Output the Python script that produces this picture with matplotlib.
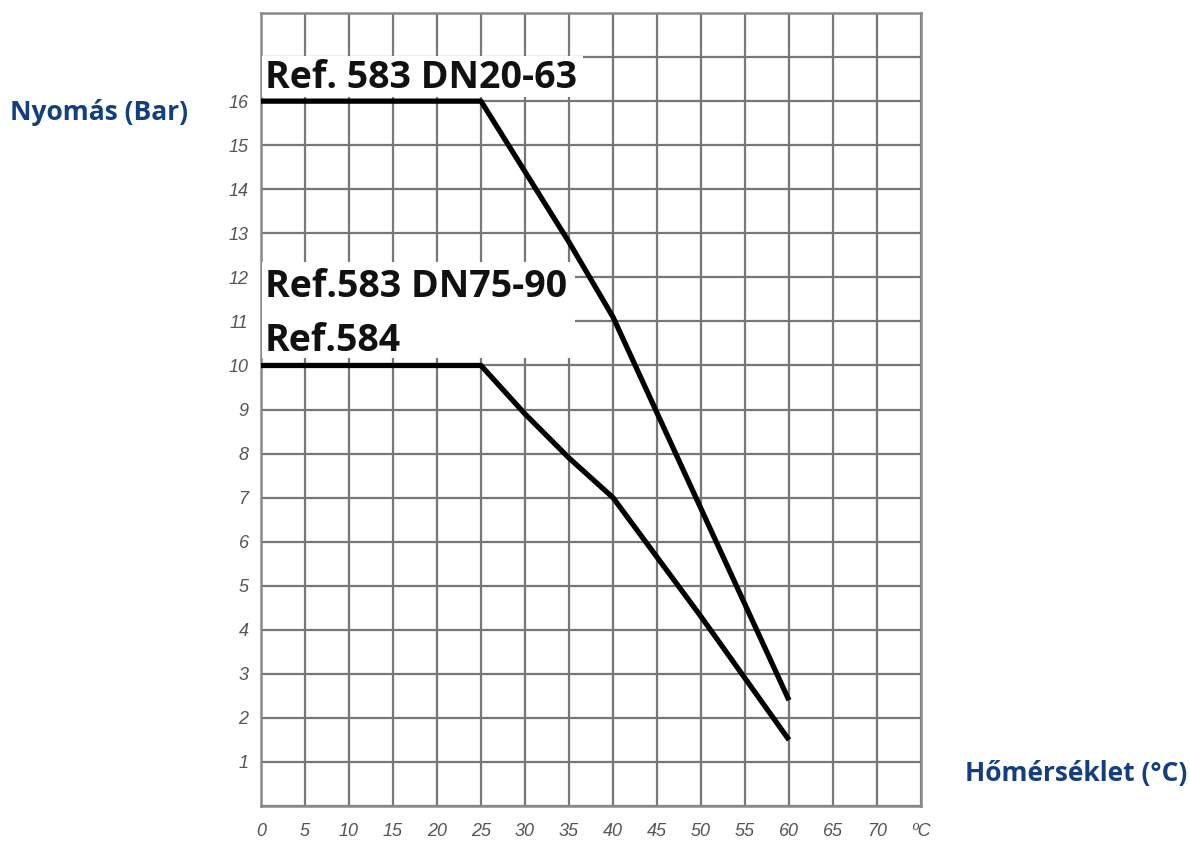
import numpy as np
import matplotlib.pyplot as plt
from matplotlib.patches import Rectangle

# ----- adatok -----
x_hi = [0, 25, 35, 40, 50, 60]
p_hi = [16, 16, 12.8, 11.1, 6.75, 2.4]
x_lo = [0, 25, 30, 35, 40, 50, 60]
p_lo = [10, 10, 8.9, 7.9, 7.0, 4.3, 1.5]

x_ticks = [0, 5, 10, 15, 20, 25, 30, 35, 40, 45, 50, 55, 60, 65, 70, 75]
x_labels = ['0', '5', '10', '15', '20', '25', '30', '35', '40', '45', '50',
            '55', '60', '65', '70', 'ºC']
y_ticks = list(range(0, 19))
y_labels = [str(v) if 1 <= v <= 16 else '' for v in y_ticks]

label_hi = "Ref. 583 DN20-63"
label_lo1 = "Ref.583 DN75-90"
label_lo2 = "Ref.584"

fig = plt.figure(figsize=(11.89, 8.41), dpi=100)
ax = fig.add_axes([0.2195, 0.0416, 0.5551, 0.9429])

ax.set_xlim(0, 75)
ax.set_ylim(0, 18)
ax.set_xticks(x_ticks)
ax.set_xticklabels(x_labels, fontstyle='italic', color='#555555',
                   fontsize=13, family='Liberation Sans')
ax.set_yticks(y_ticks)
ax.set_yticklabels(y_labels, fontstyle='italic', color='#555555',
                   fontsize=13, family='Liberation Sans')
ax.tick_params(axis='x', length=0, pad=12)
ax.tick_params(axis='y', length=0, pad=9)
ax.grid(True, color='#777777', lw=1.6)
for s in ax.spines.values():
    s.set_color('#8a8a8a')
    s.set_linewidth(1.8)

ax.plot(x_hi, p_hi, color='black', lw=3.8, solid_capstyle='butt', zorder=4)
ax.plot(x_lo, p_lo, color='black', lw=3.8, solid_capstyle='butt', zorder=4)

# fehér háttér a feliratok alatt
ax.add_patch(Rectangle((0.1, 16.1), 36.5, 0.92, fc='white', ec='none', zorder=3))
ax.add_patch(Rectangle((0.1, 10.18), 35.6, 2.16, fc='white', ec='none', zorder=3))

tkw = dict(fontsize=27, fontweight='bold', family='Open Sans', color='#111111',
           va='baseline', ha='left', zorder=5)
ax.text(0.45, 16.3, label_hi, **tkw)
ax.text(0.45, 11.55, label_lo1, **tkw)
ax.text(0.45, 10.32, label_lo2, **tkw)

# tengelyfeliratok
fig.text(10 / 1189, 1 - 113 / 841, "Nyomás (Bar)", fontsize=19, fontweight='bold',
         family='Open Sans', color='#143f7e', ha='left', va='center')
fig.text(1187 / 1189, 1 - 773 / 841, "Hőmérséklet (°C)", fontsize=19, fontweight='bold',
         family='Open Sans', color='#143f7e', ha='right', va='center')

fig.savefig('out.png', dpi=100)
